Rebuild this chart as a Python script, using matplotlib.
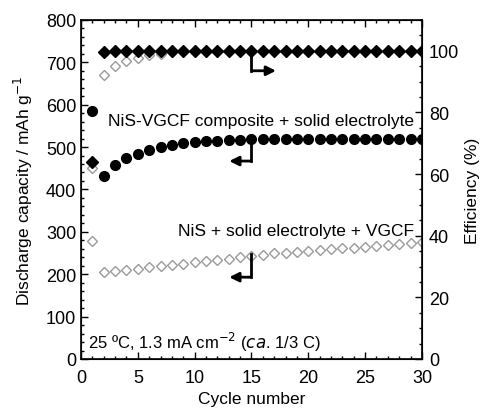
import matplotlib.pyplot as plt
from matplotlib.ticker import MultipleLocator

plt.rcParams['font.family'] = ['Liberation Sans', 'DejaVu Sans']

# cycle numbers
cycles = list(range(1, 31))

# NiS-VGCF composite + solid electrolyte, discharge capacity (mAh/g)
cap_comp = [586, 432, 458, 474, 484, 494, 500, 506, 509, 512,
            514, 515, 516, 517, 518, 518, 519, 519, 519, 520,
            520, 520, 520, 520, 520, 520, 520, 520, 520, 520]
# NiS-VGCF composite efficiency (%)
eff_comp = [64, 99.5, 100, 100, 100, 100, 100, 100, 100, 100,
            100, 100, 100, 100, 100, 100, 100, 100, 100, 100,
            100, 100, 100, 100, 100, 100, 100, 100, 100, 100]

# NiS + solid electrolyte + VGCF, discharge capacity (mAh/g)
cap_mix = [278, 205, 207, 210, 213, 216, 219, 222, 225, 228,
           231, 234, 237, 240, 243, 246, 249, 251, 253, 255,
           257, 259, 261, 263, 265, 267, 269, 271, 273, 275]
# NiS + solid electrolyte + VGCF efficiency (%)
eff_mix = [62, 92, 95, 96.7, 97.7, 98.6, 99, 99.5, 99.8, 100,
           100, 100, 100, 100, 100, 100, 100, 100, 100, 100,
           100, 100, 100, 100, 100, 100, 100, 100, 100, 100]

fig = plt.figure(figsize=(4.85, 4.1), dpi=100)
ax = fig.add_axes([0.167, 0.122, 0.703, 0.827])
ax2 = ax.twinx()

ax.plot(cycles, cap_mix, 'D', mfc='white', mec='#9a9a9a', ms=5, mew=1)
ax.plot(cycles, cap_comp, 'o', color='k', ms=7)
ax2.plot(cycles, eff_mix, 'D', mfc='white', mec='#9a9a9a', ms=5, mew=1)
ax2.plot(cycles, eff_comp, 'D', color='k', ms=6)

ax.set_xlim(0, 30)
ax.set_ylim(0, 800)
ax2.set_ylim(0, 110)
ax.xaxis.set_major_locator(MultipleLocator(5))
ax.xaxis.set_minor_locator(MultipleLocator(1))
ax.yaxis.set_major_locator(MultipleLocator(100))
ax.yaxis.set_minor_locator(MultipleLocator(20))
ax2.yaxis.set_major_locator(MultipleLocator(20))
ax2.yaxis.set_minor_locator(MultipleLocator(5))

for a in (ax, ax2):
    a.tick_params(which='both', direction='in', labelsize=13, width=1)
    a.tick_params(which='major', length=5)
    a.tick_params(which='minor', length=2.5)
ax.tick_params(axis='x', which='both', top=True, pad=7)
ax2.tick_params(axis='y', pad=5)
for s in ax.spines.values():
    s.set_linewidth(1.2)

ax.set_xlabel('Cycle number', fontsize=12.5, labelpad=4)
ax.set_ylabel('Discharge capacity / mAh g$^{-1}$', fontsize=12.5, labelpad=8)
ax2.set_ylabel('Efficiency (%)', fontsize=12.5, labelpad=4)

# arrows pointing to the axis each series belongs to
ax.plot([15, 15], [724, 680], color='k', lw=2)
ax.annotate('', xy=(17.4, 680), xytext=(14.9, 680),
            arrowprops=dict(arrowstyle='-|>', color='k', lw=2, mutation_scale=14))
ax.plot([15, 15], [519, 467], color='k', lw=2)
ax.annotate('', xy=(12.8, 467), xytext=(15.1, 467),
            arrowprops=dict(arrowstyle='-|>', color='k', lw=2, mutation_scale=14))
ax.plot([15, 15], [248, 193], color='k', lw=2)
ax.annotate('', xy=(12.8, 193), xytext=(15.1, 193),
            arrowprops=dict(arrowstyle='-|>', color='k', lw=2, mutation_scale=14))

ax.text(29.3, 562, 'NiS-VGCF composite + solid electrolyte', ha='right',
        va='center', fontsize=12.5)
ax.text(29.3, 302, 'NiS + solid electrolyte + VGCF', ha='right',
        va='center', fontsize=12.5)
ax.text(0.6, 42, '25 ºC, 1.3 mA cm$^{-2}$ ($\\it{ca}$. 1/3 C)', ha='left',
        va='center', fontsize=12)

fig.savefig('out.png', dpi=100)
